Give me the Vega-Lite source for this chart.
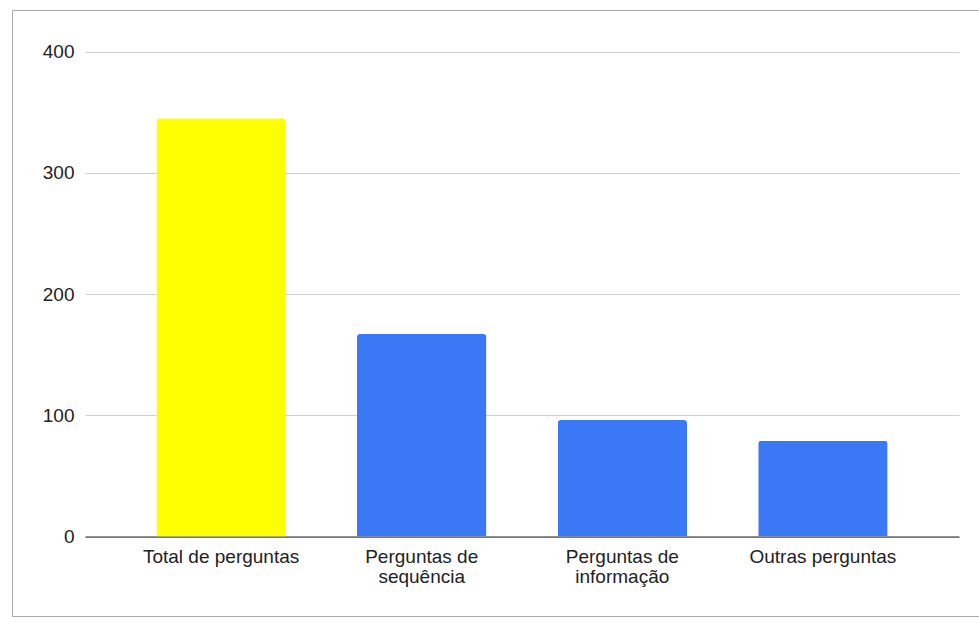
{
  "$schema": "https://vega.github.io/schema/vega-lite/v6.json",
  "width": 968,
  "height": 606,
  "autosize": {"type": "none"},
  "padding": {"left": 12, "top": 10, "right": 0, "bottom": 10},
  "background": "white",
  "config": {
    "view": {"stroke": "#a8a8a8", "strokeWidth": 1},
    "font": "Liberation Sans"
  },
  "data": {
    "values": [
      {"categoria": "Total de perguntas", "valor": 345},
      {"categoria": "Perguntas de sequência", "valor": 167},
      {"categoria": "Perguntas de informação", "valor": 96},
      {"categoria": "Outras perguntas", "valor": 79}
    ]
  },
  "mark": {"type": "bar", "cornerRadiusTopLeft": 3, "cornerRadiusTopRight": 3},
  "encoding": {
    "x": {
      "field": "categoria",
      "type": "nominal",
      "sort": null,
      "scale": {"range": [73, 947], "paddingInner": 0.355, "paddingOuter": 0.356},
      "axis": {
        "title": null,
        "labelAngle": 0,
        "offset": -79.5,
        "domainColor": "#222222",
        "domainWidth": 1,
        "ticks": false,
        "tickSize": 0,
        "labelPadding": 11,
        "labelBaseline": "top",
        "labelFont": "Liberation Sans",
        "labelFontSize": 19,
        "labelColor": "#222222",
        "labelLineHeight": 20,
        "labelLimit": 300,
        "grid": false,
        "labelExpr": "datum.label == 'Perguntas de sequência' ? ['Perguntas de', 'sequência'] : datum.label == 'Perguntas de informação' ? ['Perguntas de', 'informação'] : datum.label"
      }
    },
    "y": {
      "field": "valor",
      "type": "quantitative",
      "scale": {"domain": [0, 400], "range": [526.5, 41.5], "nice": false},
      "axis": {
        "title": null,
        "values": [0, 100, 200, 300, 400],
        "offset": -73,
        "domain": false,
        "ticks": false,
        "tickSize": 0,
        "labelPadding": 11,
        "labelFont": "Liberation Sans",
        "labelFontSize": 19,
        "labelColor": "#222222",
        "grid": true,
        "gridColor": "#cfcfcf",
        "gridWidth": 1
      }
    },
    "color": {
      "field": "categoria",
      "type": "nominal",
      "scale": {
        "domain": ["Total de perguntas", "Perguntas de sequência", "Perguntas de informação", "Outras perguntas"],
        "range": ["#ffff00", "#3b78f6", "#3b78f6", "#3b78f6"]
      },
      "legend": null
    }
  }
}
